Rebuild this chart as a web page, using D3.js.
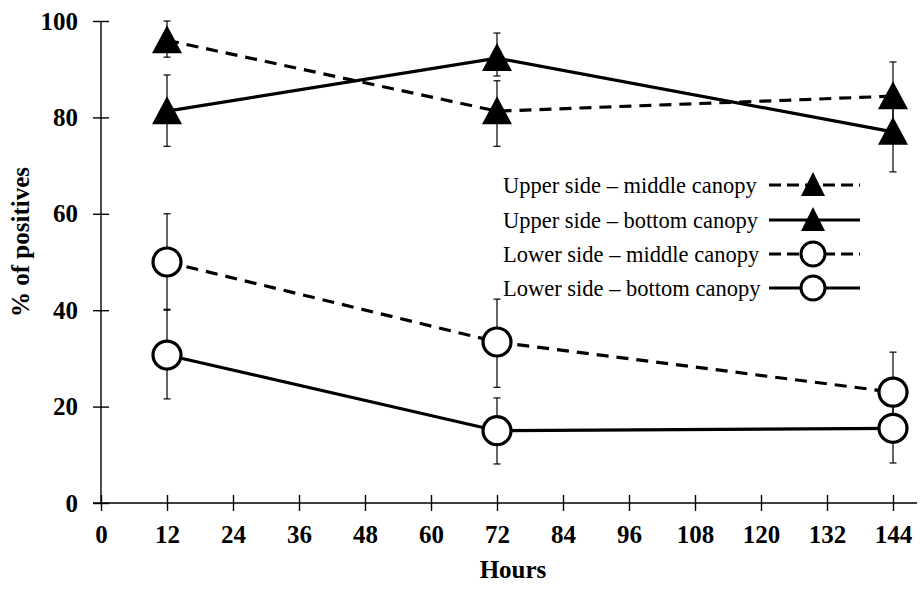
<!DOCTYPE html>
<html>
<head>
<meta charset="utf-8">
<script src="https://cdn.jsdelivr.net/npm/d3@7"></script>
<style>
  html, body { margin: 0; padding: 0; background: #fff; }
  svg { display: block; }
  text { font-family: "Liberation Serif", "Times New Roman", serif; fill: #000; }
</style>
</head>
<body>
<svg id="chart" width="920" height="590"></svg>
<script>
// ---- data ----
const hours = [12, 72, 144];
const seriesNames = [
  "Upper side \u2013 middle canopy",
  "Upper side \u2013 bottom canopy",
  "Lower side \u2013 middle canopy",
  "Lower side \u2013 bottom canopy"
];
const upperMiddle = [96, 81.3, 84.4];
const upperMiddleLow = [92.5, 74, 78];
const upperMiddleHigh = [100, 87.6, 91.5];
const upperBottom = [81.3, 92.3, 77];
const upperBottomLow = [74, 88.6, 68.7];
const upperBottomHigh = [88.8, 97.5, 84];
const lowerMiddle = [50, 33.4, 23];
const lowerMiddleLow = [40, 24, 15];
const lowerMiddleHigh = [60, 42.3, 31.3];
const lowerBottom = [30.7, 15, 15.5];
const lowerBottomLow = [21.6, 8.1, 8.3];
const lowerBottomHigh = [40.2, 21.8, 22];
const xTicks = [0, 12, 24, 36, 48, 60, 72, 84, 96, 108, 120, 132, 144];
const yTicks = [0, 20, 40, 60, 80, 100];

const series = [
  {name: seriesNames[0], v: upperMiddle, lo: upperMiddleLow, hi: upperMiddleHigh, dashed: true, marker: "tri"},
  {name: seriesNames[1], v: upperBottom, lo: upperBottomLow, hi: upperBottomHigh, dashed: false, marker: "tri"},
  {name: seriesNames[2], v: lowerMiddle, lo: lowerMiddleLow, hi: lowerMiddleHigh, dashed: true, marker: "circ"},
  {name: seriesNames[3], v: lowerBottom, lo: lowerBottomLow, hi: lowerBottomHigh, dashed: false, marker: "circ"}
];

const svg = d3.select("#chart");
const x = d3.scaleLinear().domain([0, 144]).range([101, 893]);
const y = d3.scaleLinear().domain([0, 100]).range([503, 21]);

// ---- axes ----
const gx = svg.append("g").attr("transform", `translate(0,${y(0)})`);
gx.call(d3.axisBottom(x).tickValues(xTicks).tickSize(8).tickPadding(14).tickFormat(d3.format("d")));
gx.append("g").call(d3.axisBottom(x).tickValues(xTicks).tickSize(-8).tickFormat(""));
gx.selectAll(".domain").remove();
gx.append("line").attr("x1", x(0) - 8).attr("x2", 917).attr("y1", 0).attr("y2", 0)
  .attr("stroke", "#000").attr("stroke-width", 1.4);
gx.selectAll(".tick line").attr("stroke", "#000").attr("stroke-width", 1.4);
gx.selectAll(".tick text").style("font-family", "'Liberation Serif', serif")
  .style("font-size", "25px").style("font-weight", "bold").attr("fill", "#000");

const gy = svg.append("g").attr("transform", `translate(${x(0)},0)`);
gy.call(d3.axisLeft(y).tickValues(yTicks).tickSize(8).tickPadding(15).tickFormat(d3.format("d")));
gy.append("g").call(d3.axisLeft(y).tickValues(yTicks).tickSize(-8).tickFormat(""));
gy.selectAll(".domain").remove();
gy.append("line").attr("x1", 0).attr("x2", 0).attr("y1", y(100)).attr("y2", y(0))
  .attr("stroke", "#000").attr("stroke-width", 1.4);
gy.selectAll(".tick line").attr("stroke", "#000").attr("stroke-width", 1.4);
gy.selectAll(".tick text").style("font-family", "'Liberation Serif', serif")
  .style("font-size", "25px").style("font-weight", "bold").attr("fill", "#000");

// axis titles
svg.append("text").attr("x", (x(0) + 917) / 2 + 4).attr("y", 578).attr("text-anchor", "middle")
  .style("font-size", "25px").style("font-weight", "bold").text("Hours");
svg.append("text").attr("transform", `translate(29,242) rotate(-90)`).attr("text-anchor", "middle")
  .style("font-size", "25px").style("font-weight", "bold")
  .text("% of positives");

// ---- marks ----
const line = d3.line().x((d, i) => x(hours[i])).y(d => y(d));
const plot = svg.append("g");

series.forEach(s => {
  plot.append("path").datum(s.v).attr("d", line).attr("fill", "none")
    .attr("stroke", "#000").attr("stroke-width", 3.2)
    .attr("stroke-dasharray", s.dashed ? "12,8" : null);
});

series.forEach(s => {
  const g = plot.append("g");
  hours.forEach((h, i) => {
    const cx = x(h);
    g.append("line").attr("x1", cx).attr("x2", cx).attr("y1", y(s.lo[i])).attr("y2", y(s.hi[i]))
      .attr("stroke", "#000").attr("stroke-width", 1.2);
    [s.lo[i], s.hi[i]].forEach(v => {
      g.append("line").attr("x1", cx - 3.5).attr("x2", cx + 3.5).attr("y1", y(v)).attr("y2", y(v))
        .attr("stroke", "#000").attr("stroke-width", 1.2);
    });
  });
});

function triPath(cx, cy, hw, up, down) {
  return d3.line()([[cx, cy - up], [cx + hw, cy + down], [cx - hw, cy + down]]) + "Z";
}

series.forEach(s => {
  hours.forEach((h, i) => {
    const cx = x(h), cy = y(s.v[i]);
    if (s.marker === "tri") {
      plot.append("path").attr("d", triPath(cx, cy, 15, 15, 13)).attr("fill", "#000");
    } else {
      plot.append("circle").attr("cx", cx).attr("cy", cy).attr("r", 14)
        .attr("fill", "#fff").attr("stroke", "#000").attr("stroke-width", 3.2);
    }
  });
});

// ---- legend ----
const legRowY = [185, 220, 254, 288];
const leg = svg.append("g");
series.forEach((s, i) => {
  const ly = legRowY[i];
  leg.append("text").attr("x", 503).attr("y", ly + 8)
    .style("font-size", "22.5px")
    .text(s.name);
  leg.append("line").attr("x1", 769).attr("x2", 860).attr("y1", ly).attr("y2", ly)
    .attr("stroke", "#000").attr("stroke-width", 3.2)
    .attr("stroke-dasharray", s.dashed ? "12,6" : null);
  if (s.marker === "tri") {
    leg.append("path").attr("d", triPath(813, ly, 12, 13, 11)).attr("fill", "#000");
  } else {
    leg.append("circle").attr("cx", 813).attr("cy", ly).attr("r", 12)
      .attr("fill", "#fff").attr("stroke", "#000").attr("stroke-width", 3);
  }
});
</script>
</body>
</html>
